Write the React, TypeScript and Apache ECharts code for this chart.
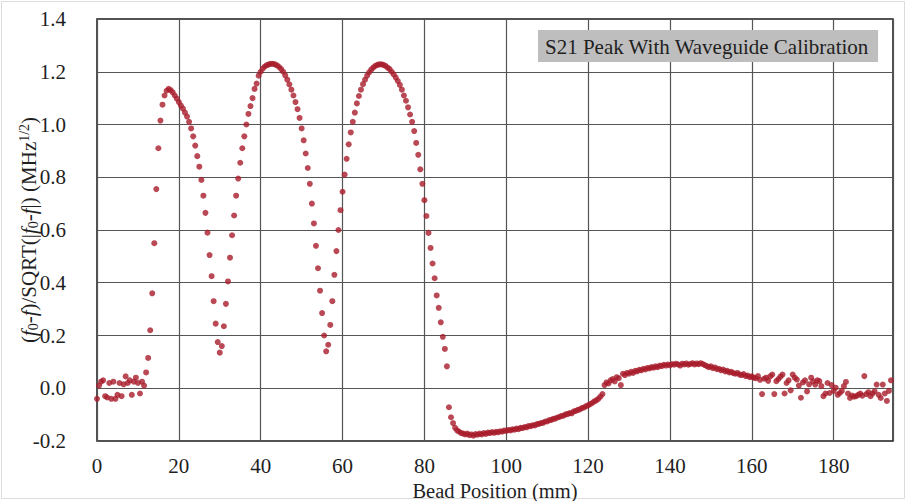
import React, { useEffect, useRef } from "react";
import * as echarts from "echarts";

// Bead position grid (mm)
const X_START = 0;
const X_STEP = 0.5;

// Measured values, (f0-f)/SQRT(|f0-f|), one array per 10 mm of bead travel
const y000 = [-0.04, 0.01, 0.025, 0.03, -0.03, -0.035, 0.02, -0.04, 0.025, -0.04, -0.025, 0.02, -0.03, 0.015, 0.045, 0.02, 0.03, -0.025, 0.025, 0.04];
const y010 = [0.02, -0.02, 0.025, 0.01, 0.06, 0.115, 0.22, 0.36, 0.55, 0.755, 0.91, 1.015, 1.075, 1.11, 1.128, 1.135, 1.13, 1.122, 1.11, 1.098];
const y020 = [1.085, 1.072, 1.06, 1.045, 1.03, 1.01, 0.985, 0.955, 0.92, 0.88, 0.84, 0.79, 0.73, 0.665, 0.59, 0.505, 0.425, 0.33, 0.245, 0.175];
const y030 = [0.135, 0.16, 0.235, 0.32, 0.405, 0.495, 0.58, 0.655, 0.73, 0.795, 0.855, 0.91, 0.955, 1.0, 1.04, 1.07, 1.1, 1.135, 1.155, 1.185];
const y040 = [1.2, 1.212, 1.22, 1.225, 1.228, 1.23, 1.23, 1.228, 1.224, 1.218, 1.21, 1.2, 1.186, 1.17, 1.152, 1.132, 1.11, 1.085, 1.058, 1.025];
const y050 = [0.985, 0.94, 0.89, 0.835, 0.775, 0.7, 0.625, 0.54, 0.455, 0.37, 0.285, 0.2, 0.14, 0.165, 0.24, 0.33, 0.43, 0.52, 0.6, 0.675];
const y060 = [0.745, 0.81, 0.87, 0.925, 0.97, 1.01, 1.045, 1.08, 1.108, 1.132, 1.153, 1.17, 1.185, 1.198, 1.208, 1.216, 1.222, 1.226, 1.228, 1.228];
const y070 = [1.226, 1.222, 1.216, 1.21, 1.2, 1.19, 1.178, 1.165, 1.15, 1.132, 1.11, 1.09, 1.065, 1.038, 1.01, 0.975, 0.93, 0.885, 0.83, 0.775];
const y080 = [0.713, 0.653, 0.589, 0.532, 0.473, 0.417, 0.352, 0.305, 0.25, 0.195, 0.149, 0.083, -0.072, -0.11, -0.132, -0.15, -0.16, -0.165, -0.17, -0.172];
const y090 = [-0.175, -0.172, -0.178, -0.175, -0.18, -0.174, -0.176, -0.172, -0.175, -0.17, -0.173, -0.168, -0.17, -0.166, -0.169, -0.165, -0.167, -0.163, -0.165, -0.16];
const y100 = [-0.162, -0.158, -0.16, -0.156, -0.157, -0.153, -0.155, -0.15, -0.151, -0.147, -0.148, -0.143, -0.144, -0.14, -0.141, -0.136, -0.135, -0.132, -0.131, -0.126];
const y110 = [-0.126, -0.121, -0.12, -0.116, -0.115, -0.111, -0.109, -0.105, -0.104, -0.099, -0.098, -0.094, -0.095, -0.088, -0.086, -0.082, -0.08, -0.075, -0.073, -0.068];
const y120 = [-0.065, -0.06, -0.056, -0.05, -0.046, -0.04, -0.032, -0.022, 0.012, 0.022, 0.018, 0.03, 0.035, 0.026, 0.042, 0.038, 0.012, 0.055, 0.05, 0.058];
const y130 = [0.055, 0.062, 0.058, 0.066, 0.064, 0.07, 0.068, 0.074, 0.071, 0.077, 0.075, 0.08, 0.078, 0.083, 0.08, 0.086, 0.084, 0.089, 0.086, 0.09];
const y140 = [0.087, 0.092, 0.089, 0.093, 0.09, 0.086, 0.093, 0.09, 0.094, 0.089, 0.092, 0.095, 0.09, 0.094, 0.091, 0.095, 0.092, 0.088, 0.084, 0.08];
const y150 = [0.083, 0.076, 0.079, 0.072, 0.074, 0.068, 0.071, 0.064, 0.066, 0.06, 0.062, 0.057, 0.055, 0.058, 0.052, 0.05, 0.054, 0.046, 0.048, 0.042];
const y160 = [0.045, 0.04, 0.038, 0.046, 0.032, -0.022, 0.036, 0.04, 0.028, 0.045, 0.052, -0.022, 0.027, 0.035, 0.044, 0.052, -0.02, 0.02, 0.03, -0.008];
const y170 = [0.052, 0.04, 0.033, 0.01, -0.036, 0.022, 0.03, -0.012, 0.015, 0.04, 0.026, 0.014, 0.03, 0.027, 0.008, -0.03, -0.02, 0.02, -0.018, 0.012];
const y180 = [-0.01, 0.002, -0.025, -0.018, -0.01, 0.008, 0.024, -0.02, -0.037, -0.028, -0.032, -0.03, -0.025, -0.02, -0.028, 0.046, -0.022, -0.015, -0.03, -0.02];
const y190 = [-0.012, 0.014, -0.025, -0.037, 0.014, -0.02, -0.048, -0.01, 0.03];

const SERIES_NAME = "S21 Peak With Waveguide Calibration";
const X_NAME = "Bead Position (mm)";
const X_MIN = 0;
const X_MAX = 194.5;
const X_INTERVAL = 20;
const Y_MIN = -0.2;
const Y_MAX = 1.4;
const Y_INTERVAL = 0.2;

const FONT = "Liberation Serif";
const TEXT = "#1f1f1f";

export default function App() {
  const ref = useRef<HTMLDivElement>(null);

  useEffect(() => {
    if (!ref.current) return;
    const chart = echarts.init(ref.current, null, { renderer: "svg" });
    const ys = [
      ...y000, ...y010, ...y020, ...y030, ...y040, ...y050, ...y060, ...y070, ...y080, ...y090,
      ...y100, ...y110, ...y120, ...y130, ...y140, ...y150, ...y160, ...y170, ...y180, ...y190,
    ];
    const data = ys.map((y, i) => [X_START + i * X_STEP, y]);

    chart.setOption({
      animation: false,
      backgroundColor: "#ffffff",
      textStyle: { fontFamily: FONT },
      graphic: [
        {
          type: "rect",
          shape: { x: 1.5, y: 1.5, width: 903, height: 497 },
          style: { fill: "none", stroke: "#dcdcdc", lineWidth: 1 },
          silent: true,
          z: -1,
        },
      ],
      legend: {
        show: true,
        left: 538,
        top: 30,
        backgroundColor: "#bebebe",
        padding: [6, 9, 5, 2],
        itemWidth: 0,
        itemHeight: 0,
        selectedMode: false,
        data: [{ name: SERIES_NAME, icon: "none" }],
        textStyle: { fontFamily: FONT, fontSize: 21, color: TEXT, lineHeight: 21 },
      },
      grid: {
        left: 97,
        top: 19,
        right: 13,
        bottom: 60,
        show: true,
        outerBoundsMode: "none",
        containLabel: false,
        borderColor: "#1a1a1a",
        borderWidth: 1.5,
      },
      xAxis: {
        type: "value",
        min: X_MIN,
        max: X_MAX,
        interval: X_INTERVAL,
        axisLine: { show: false },
        axisTick: { show: false },
        splitLine: { show: true, lineStyle: { color: "#555555", width: 1.2 } },
        axisLabel: {
          fontFamily: FONT,
          fontSize: 21,
          color: TEXT,
          margin: 14,
          showMaxLabel: false,
        },
        name: X_NAME,
        nameLocation: "middle",
        nameGap: 39,
        nameMoveOverlap: false,
        nameTextStyle: { fontFamily: FONT, fontSize: 20.5, color: TEXT },
      },
      yAxis: {
        type: "value",
        min: Y_MIN,
        max: Y_MAX,
        interval: Y_INTERVAL,
        axisLine: { show: false },
        axisTick: { show: false },
        splitLine: { show: true, lineStyle: { color: "#555555", width: 1.2 } },
        axisLabel: {
          fontFamily: FONT,
          fontSize: 21,
          color: TEXT,
          margin: 31,
          formatter: (v: number) => v.toFixed(1),
        },
        name: "{p|(}{i|f}{s|0}{p|-}{i|f}{p|)/SQRT(|}{i|f}{s|0}{p|-}{i|f}{p||) (MHz}{u|1/2}{p|)}",
        nameLocation: "middle",
        nameGap: 57,
        nameMoveOverlap: false,
        nameTextStyle: {
          fontFamily: FONT,
          fontSize: 21,
          color: TEXT,
          rich: {
            p: { fontFamily: FONT, fontSize: 21, color: TEXT, lineHeight: 23 },
            i: { fontFamily: FONT, fontSize: 21, fontStyle: "italic", color: TEXT, lineHeight: 23 },
            s: { fontFamily: FONT, fontSize: 14, color: TEXT, verticalAlign: "bottom" },
            u: { fontFamily: FONT, fontSize: 14, color: TEXT, verticalAlign: "top" },
          },
        },
      },
      series: [
        {
          name: SERIES_NAME,
          type: "scatter",
          data,
          symbol: "circle",
          symbolSize: 6,
          itemStyle: { color: "#a81c2a" },
        },
      ],
    });

    return () => chart.dispose();
  }, []);

  return (
    <div
      ref={ref}
      style={{ position: "fixed", left: 0, top: 0, width: 906, height: 501, background: "#fff" }}
    />
  );
}
